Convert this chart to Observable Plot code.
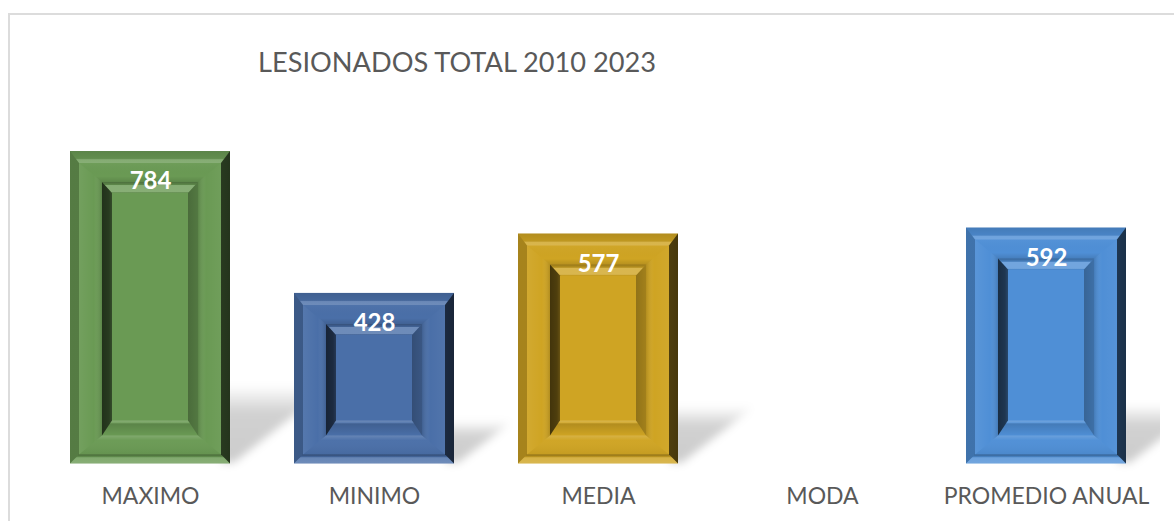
<!DOCTYPE html>
<html><head><meta charset="utf-8">
<script src="https://cdn.jsdelivr.net/npm/d3@7"></script>
<script src="https://cdn.jsdelivr.net/npm/@observablehq/plot@0.6"></script>
<style>
html,body{margin:0;padding:0;background:#fff;overflow:hidden}
#wrap{position:relative;width:1174px;height:521px}
#border{position:absolute;left:8px;top:13px;right:0;bottom:0;border-top:2px solid #dcdcdc;border-left:2px solid #dcdcdc}
#title{position:absolute;left:258px;top:45px;font:27.2px Lato,sans-serif;color:#595959;white-space:nowrap}
#wrap svg{position:absolute;left:0;top:0;background:transparent}
</style></head><body>
<div id="wrap"><div id="border"></div><div id="title">LESIONADOS TOTAL 2010 2023</div></div>
<script>
const categories = ["MAXIMO","MINIMO","MEDIA","MODA","PROMEDIO ANUAL"];
const values = [784,428,577,null,592];
const barColors = ["#6a9a54","#4a6fa8","#cfa423","#999999","#4f8fd6"];
const table = categories.map((category,i)=>({category,value:values[i]}));

// Bevel layout, in pixels inward from each bar edge
const OUTER = {l:9,r:9,t:12,b:9}, RECESS = {l:32,r:32,t:31,b:28}, INNER = {l:42,r:42,t:42,b:43};
const S = (o,c,a)=>[o,c,a];
const gradients = {
  outerTop:   ["v",[S(0,"#000",.14),S(.6,"#000",.08),S(.72,"#fff",.18),S(1,"#fff",.2)]],
  outerLeft:  ["h",[S(0,"#000",.2),S(1,"#000",.2)]],
  outerRight: ["h",[S(0,"#000",.62),S(1,"#000",.66)]],
  outerBottom:["v",[S(0,"#000",.35),S(.22,"#000",.12),S(.36,"#fff",.16),S(1,"#fff",.2)]],
  frameTop:   ["v",[S(0,"#fff",.03),S(.7,"#000",0),S(1,"#000",.12)]],
  frameLeft:  ["h",[S(0,"#fff",.06),S(.65,"#fff",0),S(1,"#000",.14)]],
  frameRight: ["h",[S(0,"#000",.14),S(.35,"#fff",0),S(1,"#fff",.04)]],
  frameBottom:["v",[S(0,"#fff",.16),S(.25,"#fff",.02),S(1,"#000",.05)]],
  recessTop:  ["v",[S(0,"#000",.28),S(.25,"#000",.12),S(.32,"#fff",.2),S(.9,"#fff",.2),S(1,"#000",.08)]],
  recessLeft: ["h",[S(0,"#000",.68),S(.7,"#000",.62),S(1,"#000",.5)]],
  recessRight:["h",[S(0,"#000",.3),S(1,"#000",.22)]],
  recessBottom:["v",[S(0,"#fff",.2),S(.14,"#fff",.1),S(.22,"#000",.14),S(.8,"#000",.04),S(1,"#000",0)]],
  shadow:     ["v",[S(0,"#000",0),S(.35,"#000",.18),S(1,"#000",.2)]]
};
function addDefs(g){
  const defs = g.append("defs");
  for (const [id,[dir,stops]] of Object.entries(gradients)) {
    const lg = defs.append("linearGradient").attr("id",id)
      .attr("x1",0).attr("y1",0).attr("x2",dir==="h"?1:0).attr("y2",dir==="v"?1:0);
    for (const [o,c,a] of stops) lg.append("stop").attr("offset",o).attr("stop-color",c).attr("stop-opacity",a);
  }
  defs.append("filter").attr("id","soft").attr("x","-20%").attr("y","-40%").attr("width","140%").attr("height","180%")
    .append("feGaussianBlur").attr("stdDeviation",4.5);
}
const bandOf = s => { const b = s.x.bandwidth; return typeof b === "function" ? b() : b; };

function shadowRender(index,scales,vals,dim){
  const g = d3.create("svg:g");
  addDefs(g);
  const clipRight = dim.width - dim.marginRight + 2;
  g.append("clipPath").attr("id","plotClip").append("rect")
    .attr("x",0).attr("y",0).attr("width",clipRight).attr("height",dim.height);
  const layer = g.append("g").attr("clip-path","url(#plotClip)");
  const bw = bandOf(scales), base = scales.y(0);
  for (const i of index) {
    const right = scales.x(table[i].category)+bw, h = base-scales.y(table[i].value), sh = h*0.25;
    layer.append("polygon")
      .attr("points",[[right-8,base-1],[right-8,base-sh],[right+sh*1.2+8,base-sh],[right+4,base-1]].join(" "))
      .attr("fill","url(#shadow)").attr("filter","url(#soft)");
  }
  return g.node();
}
function ring(g,x0,y0,x1,y1,a,b,names){
  const A=[x0+a.l,y0+a.t,x1-a.r,y1-a.b], B=[x0+b.l,y0+b.t,x1-b.r,y1-b.b];
  const sides = [
    [[A[0],A[1]],[A[2],A[1]],[B[2],B[1]],[B[0],B[1]]],
    [[A[0],A[1]],[B[0],B[1]],[B[0],B[3]],[A[0],A[3]]],
    [[A[2],A[1]],[B[2],B[1]],[B[2],B[3]],[A[2],A[3]]],
    [[A[0],A[3]],[A[2],A[3]],[B[2],B[3]],[B[0],B[3]]]
  ];
  sides.forEach((p,k)=>g.append("polygon").attr("points",p.join(" ")).attr("fill",`url(#${names[k]})`));
}
function bevelRender(index,scales,vals,dim,ctx,next){
  const root = d3.create("svg:g");
  root.append(()=>next(index,scales,vals,dim,ctx));
  const g = root.append("g");
  const bw = bandOf(scales), base = scales.y(0), zero={l:0,r:0,t:0,b:0};
  for (const i of index) {
    const x0 = scales.x(table[i].category), x1 = x0+bw, y0 = scales.y(table[i].value);
    ring(g,x0,y0,x1,base,zero,OUTER,["outerTop","outerLeft","outerRight","outerBottom"]);
    ring(g,x0,y0,x1,base,OUTER,RECESS,["frameTop","frameLeft","frameRight","frameBottom"]);
    ring(g,x0,y0,x1,base,RECESS,INNER,["recessTop","recessLeft","recessRight","recessBottom"]);
  }
  return root.node();
}
const drawn = table.filter(d=>d.value!=null);
const chart = Plot.plot({
  width:1174,height:521,
  marginLeft:38,marginRight:16,marginTop:151,marginBottom:57.5,
  style:{background:"transparent"},
  x:{type:"band",domain:categories,paddingInner:64/224,paddingOuter:32/224,round:false,label:null},
  y:{domain:[0,784],axis:null},
  color:{domain:categories,range:barColors},
  marks:[
    Plot.axisX({tickSize:0,tickPadding:24,label:null,fontSize:23,fontFamily:"Lato, sans-serif",fill:"#595959"}),
    Plot.barY(table,{x:"category",y:"value",filter:d=>d.value!=null,fill:"none",render:shadowRender}),
    Plot.barY(table,{x:"category",y:"value",filter:d=>d.value!=null,fill:"category",render:bevelRender}),
    Plot.text(drawn,{x:"category",y:"value",text:d=>String(d.value),dy:30,fill:"#fff",
      fontWeight:"bold",fontSize:24,fontFamily:"Lato, sans-serif",lineAnchor:"middle"})
  ]
});
document.getElementById("wrap").appendChild(chart);
</script></body></html>
